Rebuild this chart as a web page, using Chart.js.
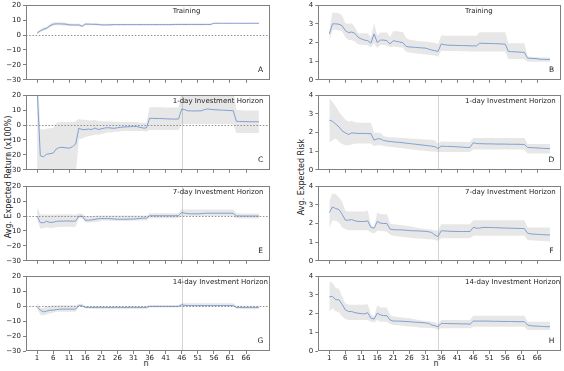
<!DOCTYPE html>
<html>
<head>
<meta charset="utf-8">
<script src="https://cdn.jsdelivr.net/npm/chart.js@4"></script>
<style>
  body { margin: 0; background: #fff; }
  #fig { position: relative; width: 564px; height: 371px; font-family: "DejaVu Sans", sans-serif; overflow: hidden; }
  #fig canvas { position: absolute; }
  .lbl { position: absolute; font-size: 8px; color: #222; white-space: nowrap; transform: translate(-50%, -50%); }
  .rot { transform: translate(-50%, -50%) rotate(-90deg); }
</style>
</head>
<body>
<div id="fig">
  <div class="lbl rot" style="left:8px;top:177px">Avg. Expected Return (x100%)</div>
  <div class="lbl rot" style="left:301px;top:177px">Avg. Expected Risk</div>
  <div class="lbl" style="left:146px;top:363px">n</div>
  <div class="lbl" style="left:436px;top:363px">n</div>
</div>
<script>
// n = 1..70 (window size)
const nValues = Array.from({ length: 70 }, (_, i) => i + 1);
const xTickValues = [1, 6, 11, 16, 21, 26, 31, 36, 41, 46, 51, 56, 61, 66];

// --- expected return (x100%) ---
const trainRetMean = [1.3,2.8,3.9,4.6,6.2,7.3,7.5,7.5,7.4,7.3, 6.8,6.8,6.7,6.8,5.9,7.3,7.3,7.2,7.2,7.1,
  6.8,6.8,6.8,6.9,7.0,7.0,7.0,7.0,7.0,7.0, 7.0,7.0,7.0,7.0,7.0,7.0,7.0,7.0,7.0,7.0,
  7.0,7.0,7.0,7.1,7.1,7.1,7.1,7.1,7.1,7.1, 7.1,7.1,7.1,7.1,7.1,7.9,7.9,7.9,7.9,7.9,
  7.9,7.9,7.9,7.9,7.9,7.9,7.9,7.9,7.9,7.9];
const trainRetUpper = [2.4,3.9,5.0,5.8,7.4,8.5,8.6,8.6,8.5,8.3, 7.7,7.7,7.6,7.7,6.8,8.0,8.0,7.9,7.9,7.8,
  7.5,7.5,7.5,7.6,7.6,7.6,7.6,7.6,7.6,7.6, 7.6,7.6,7.6,7.6,7.6,7.6,7.6,7.6,7.6,7.6,
  7.6,7.6,7.6,7.7,7.7,7.7,7.7,7.7,7.7,7.7, 7.7,7.7,7.7,7.7,7.7,8.1,8.1,8.1,8.1,8.1,
  8.1,8.1,8.1,8.1,8.1,8.1,8.1,8.1,8.1,8.1];
const trainRetLower = [0.3,1.8,2.9,3.5,5.0,6.2,6.5,6.5,6.4,6.3, 6.0,6.0,5.9,6.0,5.0,6.6,6.6,6.5,6.5,6.4,
  6.2,6.2,6.2,6.3,6.4,6.4,6.4,6.4,6.4,6.4, 6.4,6.4,6.4,6.4,6.4,6.4,6.4,6.4,6.4,6.4,
  6.4,6.4,6.4,6.5,6.5,6.5,6.5,6.5,6.5,6.5, 6.5,6.5,6.5,6.5,6.5,7.7,7.7,7.7,7.7,7.7,
  7.7,7.7,7.7,7.7,7.7,7.7,7.7,7.7,7.7,7.7];

const day1RetMean = [25,-20.6,-21.3,-19.5,-19.2,-18.8,-16,-15,-15,-15.3, -15.5,-14.5,-12.8,-2,-3.1,-3,-2.7,-3,-2,-3,
  -2.5,-2,-1.8,-2,-2.2,-1.8,-1.5,-1.3,-1.2,-1.1, -1.0,-1.0,-1.5,-2.0,-2.0,4.5,4.5,4.4,4.4,4.3,
  4.2,4.1,4.0,4.0,4.0,10.8,10.2,9.5,9.5,9.4, 9.5,9.5,10.3,10.8,10.5,10.3,10.2,10.0,10.0,9.8,
  9.7,9.6,2.5,2.4,2.3,2.3,2.2,2.2,2.2,2.2];
const day1RetUpper = [45,-3,-3,-2.5,-2.2,-2,1.5,2,2,2, 2,2,2.5,4,3.5,3.5,3,3,3.5,2.5,
  2.5,2.5,2.5,2.3,2.2,2.2,2.0,2.0,2.0,2.0, 2.0,2.0,1.5,1.5,1.5,12,12,12,12,12,
  11.8,11.8,11.8,11.8,11.8,24,24,24,24,24, 24,24,24,24,24,24,24,24,24,24,
  24,24,10,10,9.8,9.8,9.7,9.7,9.7,9.7];
const day1RetLower = [-50,-34,-34,-33,-33,-34,-36,-36,-36,-36, -36,-35,-34,-9.5,-9,-8,-7.5,-7,-6.5,-6.5,
  -6,-5.5,-5,-5,-4.5,-4.5,-4.2,-4,-4,-4, -4,-4,-4,-4,-4.5,-3.4,-3.4,-3.4,-3.4,-3.4,
  -3.4,-3.4,-3.4,-3.4,-3.4,0.7,0.7,0.7,0.7,0.7, 0.7,0.7,0.7,0.7,0.7,0.7,0.7,0.7,0.7,0.7,
  0.7,0.7,-5.4,-5.4,-5.4,-5.4,-5.4,-5.4,-5.4,-5.4];

const day7RetMean = [0,-4.4,-4.5,-3.5,-4.3,-4.1,-3.6,-3.4,-3.4,-3.3, -3.3,-3.5,-3.2,-0.2,0,-2.8,-2.8,-2.6,-2.2,-1.8,
  -1.7,-1.7,-1.7,-1.8,-2.0,-2.1,-2.1,-2.1,-2.1,-2.0, -2.0,-1.8,-1.6,-1.4,-1.4,0.2,0.2,0.2,0.2,0.2,
  0.2,0.2,0.2,0.2,0.3,2.4,1.9,1.6,1.5,1.5, 1.5,1.6,1.8,1.9,1.9,1.9,1.9,1.9,1.9,1.9,
  1.9,1.8,0.1,0.1,0,0,0,0,0,0];
const day7RetUpper = [5.7,1.2,1.0,1.0,1.0,1.0,1.0,1.2,1.2,1.2, 1.2,1.0,1.0,1.7,1.7,0,0,0,0.2,0.4,
  0.4,0.4,0.4,0.4,0.4,0.4,0.4,0.4,0.4,0.4, 0.4,0.4,0.4,0.4,0.4,1.9,1.9,1.9,1.9,1.9,
  1.9,1.9,1.9,1.9,1.9,4.4,4.4,4.4,4.4,4.4, 4.4,4.4,4.4,4.4,4.4,4.4,4.4,4.4,4.4,4.4,
  4.4,4.4,1.7,1.7,1.7,1.7,1.7,1.7,1.7,1.7];
const day7RetLower = [-2,-8.4,-8.2,-7.5,-8,-7.8,-7.5,-7.3,-7.3,-7.2, -7.2,-7.3,-7.2,-1.4,-1.4,-4.3,-4.3,-4.2,-4,-3.6,
  -3.2,-3.2,-3.2,-3.2,-3.3,-3.3,-3.3,-3.3,-3.3,-3.2, -3.2,-3.1,-3.0,-3.0,-3.0,-1.4,-1.4,-1.4,-1.4,-1.4,
  -1.4,-1.4,-1.4,-1.4,-1.4,0.1,0.1,0.1,0.1,0.1, 0.1,0.1,0.1,0.1,0.1,0.1,0.1,0.1,0.1,0.1,
  0.1,0.1,-1.7,-1.7,-1.7,-1.7,-1.7,-1.7,-1.7,-1.7];

const day14RetMean = [-0.4,-2.7,-3.8,-3.3,-2.7,-2.7,-2.3,-2.1,-2.0,-2.0, -2.0,-2.0,-2.0,0.4,0.2,-0.9,-0.9,-1.0,-1.0,-1.0,
  -1.0,-1.0,-1.0,-1.0,-1.0,-1.0,-1.0,-1.0,-1.0,-1.0, -1.0,-1.0,-1.0,-1.0,-1.0,-0.2,-0.2,-0.2,-0.2,-0.2,
  -0.2,-0.2,-0.2,-0.2,-0.2,0.9,0.5,0.4,0.4,0.4, 0.4,0.4,0.4,0.4,0.4,0.4,0.4,0.4,0.4,0.4,
  0.4,0.4,-0.9,-0.9,-1.0,-1.0,-1.0,-1.0,-1.0,-1.0];
const day14RetUpper = [2.2,-1.1,-1.3,0,0.3,0.5,0.5,0.5,0.5,0.5, 0.5,0.5,0.5,1.6,1.6,0,0,0,0,0,
  0,0,0,0,0,0,0,0,0,0, 0,0,0,0,0,0.7,0.7,0.7,0.7,0.7,
  0.7,0.7,0.7,0.7,0.7,2.0,2.0,2.0,2.0,2.0, 2.0,2.0,2.0,2.0,2.0,2.0,2.0,2.0,2.0,2.0,
  2.0,2.0,0.2,0.2,0.2,0.2,0.2,0.2,0.2,0.2];
const day14RetLower = [-1.5,-6,-6.3,-5.5,-5,-4.5,-3.8,-3.8,-3.8,-3.8, -3.8,-3.8,-3.8,-0.3,-0.3,-1.6,-1.6,-1.6,-1.6,-1.6,
  -1.6,-1.6,-1.6,-1.6,-1.6,-1.6,-1.6,-1.6,-1.6,-1.6, -1.6,-1.6,-1.6,-1.6,-1.6,-0.9,-0.9,-0.9,-0.9,-0.9,
  -0.9,-0.9,-0.9,-0.9,-0.9,-0.2,-0.2,-0.2,-0.2,-0.2, -0.2,-0.2,-0.2,-0.2,-0.2,-0.2,-0.2,-0.2,-0.2,-0.2,
  -0.2,-0.2,-1.8,-1.8,-1.8,-1.8,-1.8,-1.8,-1.8,-1.8];

// --- expected risk ---
const trainRiskMean = [2.46,3.0,3.0,2.98,2.9,2.64,2.53,2.56,2.49,2.28, 2.19,2.13,2.1,1.97,2.46,2.0,2.13,2.13,2.1,1.92,
  2.1,2.06,2.03,1.99,1.79,1.76,1.75,1.74,1.72,1.71, 1.7,1.65,1.6,1.56,1.52,1.92,1.88,1.86,1.85,1.85,
  1.84,1.84,1.83,1.83,1.82,1.82,1.82,1.96,1.96,1.95, 1.95,1.94,1.94,1.93,1.92,1.91,1.52,1.51,1.5,1.49,
  1.48,1.47,1.16,1.15,1.14,1.13,1.1,1.1,1.09,1.09];
const trainRiskUpper = [2.64,3.62,3.6,3.57,3.45,3.03,3.0,3.03,2.82,2.5, 2.5,2.5,2.5,2.28,3.03,2.37,2.53,2.53,2.53,2.31,
  2.6,2.6,2.58,2.56,2.24,2.15,2.13,2.1,2.08,2.06, 2.05,2.03,2.0,1.98,1.92,2.37,2.37,2.36,2.36,2.36,
  2.36,2.36,2.36,2.36,2.36,2.36,2.36,2.55,2.55,2.55, 2.55,2.55,2.55,2.55,2.55,2.55,1.96,1.96,1.96,1.96,
  1.96,1.96,1.24,1.24,1.22,1.21,1.2,1.2,1.2,1.2];
const trainRiskLower = [2.1,2.67,2.68,2.65,2.6,2.28,2.13,2.13,2.05,1.9, 1.88,1.86,1.85,1.74,1.96,1.7,1.87,1.86,1.84,1.74,
  1.78,1.76,1.74,1.72,1.5,1.46,1.44,1.42,1.4,1.38, 1.36,1.34,1.32,1.3,1.24,1.56,1.55,1.54,1.54,1.54,
  1.54,1.53,1.53,1.53,1.52,1.52,1.52,1.52,1.52,1.52, 1.52,1.52,1.52,1.52,1.52,1.52,1.11,1.11,1.11,1.11,
  1.11,1.11,0.97,0.97,0.97,0.97,0.97,0.97,0.97,0.97];

const day1RiskMean = [2.66,2.6,2.45,2.3,2.09,1.98,1.89,1.98,1.96,1.95, 1.95,1.95,1.94,1.94,1.59,1.66,1.66,1.57,1.54,1.52,
  1.5,1.48,1.47,1.45,1.43,1.41,1.39,1.37,1.35,1.33, 1.31,1.29,1.27,1.24,1.14,1.27,1.26,1.25,1.25,1.24,
  1.23,1.22,1.21,1.2,1.2,1.45,1.41,1.4,1.4,1.39, 1.39,1.39,1.38,1.38,1.38,1.38,1.37,1.37,1.37,1.37,
  1.36,1.36,1.2,1.19,1.18,1.17,1.16,1.15,1.14,1.14];
const day1RiskUpper = [3.82,3.64,3.41,3.11,2.88,2.7,2.57,2.63,2.55,2.53, 2.52,2.52,2.52,2.52,1.98,1.98,1.98,1.8,1.77,1.75,
  1.74,1.73,1.72,1.71,1.7,1.68,1.67,1.66,1.65,1.64, 1.63,1.62,1.61,1.59,1.41,1.52,1.52,1.51,1.51,1.5,
  1.5,1.5,1.49,1.49,1.49,1.71,1.71,1.71,1.71,1.71, 1.71,1.71,1.71,1.71,1.71,1.71,1.71,1.71,1.71,1.71,
  1.71,1.71,1.38,1.38,1.38,1.38,1.38,1.38,1.38,1.38];
const day1RiskLower = [1.46,1.59,1.68,1.5,1.38,1.32,1.32,1.35,1.4,1.41, 1.41,1.41,1.41,1.41,1.27,1.32,1.32,1.27,1.25,1.23,
  1.21,1.19,1.17,1.15,1.13,1.11,1.09,1.07,1.05,1.03, 1.01,0.99,0.98,0.97,0.96,0.96,0.96,0.96,0.96,0.96,
  0.96,0.96,0.96,0.96,0.96,1.09,1.09,1.09,1.09,1.09, 1.09,1.09,1.09,1.09,1.09,1.09,1.09,1.09,1.09,1.09,
  1.09,1.09,0.88,0.88,0.88,0.88,0.88,0.88,0.88,0.88];

const day7RiskMean = [2.59,2.89,2.8,2.75,2.5,2.18,2.18,2.21,2.14,2.11, 2.11,2.11,2.14,1.79,1.75,2.11,2.02,2.0,2.0,1.7,
  1.67,1.66,1.66,1.65,1.64,1.62,1.61,1.61,1.6,1.59, 1.58,1.56,1.52,1.38,1.3,1.61,1.6,1.59,1.58,1.58,
  1.57,1.57,1.57,1.57,1.57,1.79,1.75,1.75,1.79,1.79, 1.79,1.78,1.78,1.77,1.76,1.76,1.75,1.75,1.74,1.74,
  1.73,1.73,1.48,1.44,1.43,1.42,1.41,1.4,1.39,1.39];
const day7RiskUpper = [3.21,3.61,3.57,3.39,3.18,2.68,2.64,2.64,2.64,2.64, 2.64,2.64,2.7,1.96,1.79,2.59,2.5,2.5,2.5,2.0,
  1.96,1.94,1.92,1.9,1.88,1.85,1.82,1.79,1.76,1.73, 1.71,1.69,1.67,1.64,1.61,1.96,1.96,1.96,1.96,1.96,
  1.96,1.96,1.96,1.96,1.96,2.18,2.18,2.18,2.18,2.18, 2.18,2.18,2.18,2.18,2.18,2.18,2.18,2.18,2.18,2.18,
  2.18,2.18,1.79,1.79,1.79,1.79,1.79,1.79,1.79,1.79];
const day7RiskLower = [1.79,2.18,2.15,2.05,1.79,1.7,1.64,1.64,1.64,1.64, 1.64,1.64,1.64,1.52,1.46,1.61,1.6,1.58,1.56,1.4,
  1.34,1.32,1.3,1.28,1.26,1.24,1.22,1.2,1.19,1.18, 1.17,1.16,1.16,1.12,1.07,1.21,1.21,1.21,1.21,1.21,
  1.21,1.21,1.21,1.21,1.21,1.34,1.34,1.34,1.34,1.34, 1.34,1.34,1.34,1.34,1.34,1.34,1.34,1.34,1.34,1.34,
  1.34,1.34,1.11,1.1,1.09,1.08,1.07,1.06,1.05,1.04];

const day14RiskMean = [2.9,2.92,2.74,2.74,2.5,2.2,2.11,2.11,2.05,2.02, 2.0,1.98,2.05,1.75,1.71,2.02,1.93,1.89,1.89,1.66,
  1.6,1.6,1.6,1.59,1.58,1.57,1.55,1.54,1.53,1.52, 1.5,1.48,1.39,1.35,1.3,1.48,1.47,1.47,1.46,1.46,
  1.46,1.45,1.45,1.45,1.43,1.6,1.6,1.6,1.6,1.6, 1.6,1.59,1.59,1.59,1.58,1.58,1.58,1.58,1.57,1.57,
  1.57,1.57,1.39,1.35,1.34,1.33,1.32,1.31,1.3,1.3];
const day14RiskUpper = [3.73,3.64,3.37,3.33,2.92,2.56,2.47,2.47,2.47,2.47, 2.47,2.47,2.5,1.96,1.84,2.43,2.32,2.32,2.32,1.93,
  1.84,1.83,1.81,1.79,1.77,1.75,1.72,1.69,1.66,1.63, 1.61,1.59,1.57,1.55,1.42,1.66,1.66,1.66,1.66,1.66,
  1.66,1.66,1.66,1.66,1.66,1.89,1.89,1.89,1.89,1.89, 1.89,1.89,1.89,1.89,1.89,1.89,1.89,1.89,1.89,1.89,
  1.89,1.89,1.57,1.57,1.57,1.57,1.57,1.57,1.57,1.57];
const day14RiskLower = [2.11,2.29,2.11,2.07,1.84,1.71,1.66,1.66,1.66,1.66, 1.66,1.66,1.66,1.57,1.53,1.66,1.57,1.57,1.57,1.45,
  1.39,1.38,1.36,1.35,1.33,1.31,1.3,1.28,1.26,1.25, 1.24,1.23,1.22,1.21,1.12,1.21,1.21,1.21,1.21,1.21,
  1.21,1.21,1.21,1.21,1.21,1.3,1.3,1.3,1.3,1.3, 1.3,1.3,1.3,1.3,1.3,1.3,1.3,1.3,1.3,1.3,
  1.3,1.3,1.12,1.12,1.12,1.12,1.12,1.12,1.12,1.12];

const panelTitles = ['Training', '1-day Investment Horizon', '7-day Investment Horizon', '14-day Investment Horizon'];

const panels = [
  { col: 0, row: 0, letter: 'A', mean: trainRetMean, upper: trainRetUpper, lower: trainRetLower, vline: null },
  { col: 0, row: 1, letter: 'C', mean: day1RetMean, upper: day1RetUpper, lower: day1RetLower, vline: 46 },
  { col: 0, row: 2, letter: 'E', mean: day7RetMean, upper: day7RetUpper, lower: day7RetLower, vline: 46 },
  { col: 0, row: 3, letter: 'G', mean: day14RetMean, upper: day14RetUpper, lower: day14RetLower, vline: 46 },
  { col: 1, row: 0, letter: 'B', mean: trainRiskMean, upper: trainRiskUpper, lower: trainRiskLower, vline: null },
  { col: 1, row: 1, letter: 'D', mean: day1RiskMean, upper: day1RiskUpper, lower: day1RiskLower, vline: 35 },
  { col: 1, row: 2, letter: 'F', mean: day7RiskMean, upper: day7RiskUpper, lower: day7RiskLower, vline: 35 },
  { col: 1, row: 3, letter: 'H', mean: day14RiskMean, upper: day14RiskUpper, lower: day14RiskLower, vline: 35 }
];

const FONT = 'DejaVu Sans';
const rowTops = [4.5, 95, 185.5, 276];
const plotH = 75;
const padTop = 6;

// draws the box, reference lines and in-panel texts
const panelDecor = {
  id: 'panelDecor',
  beforeDatasetsDraw(chart, args, o) {
    const { ctx, chartArea: a, scales } = chart;
    if (o.vline != null) {
      const x = Math.round(scales.x.getPixelForValue(o.vline)) + 0.5;
      ctx.save();
      ctx.strokeStyle = '#d4d4d4';
      ctx.lineWidth = 1;
      ctx.beginPath(); ctx.moveTo(x, a.top); ctx.lineTo(x, a.bottom); ctx.stroke();
      ctx.restore();
    }
  },
  afterDatasetsDraw(chart, args, o) {
    const { ctx, chartArea: a, scales } = chart;
    if (o.zero) {
      const y = Math.round(scales.y.getPixelForValue(0)) + 0.5;
      ctx.save();
      ctx.strokeStyle = '#8a8a8a';
      ctx.lineWidth = 0.9;
      ctx.setLineDash([1.6, 1.6]);
      ctx.beginPath(); ctx.moveTo(a.left, y); ctx.lineTo(a.right, y); ctx.stroke();
      ctx.restore();
    }
  },
  afterDraw(chart, args, o) {
    const { ctx, chartArea: a } = chart;
    ctx.save();
    ctx.strokeStyle = '#808080';
    ctx.lineWidth = 1;
    ctx.strokeRect(Math.round(a.left) + 0.5, Math.round(a.top) + 0.5,
      Math.round(a.right - a.left) - 1, Math.round(a.bottom - a.top) - 1);
    ctx.fillStyle = '#222';
    ctx.font = '7px "' + FONT + '"';
    ctx.textBaseline = 'middle';
    ctx.textAlign = 'left';
    ctx.fillText(o.title, a.left + 146.7, a.top + 6);
    ctx.font = '7.5px "' + FONT + '"';
    ctx.textAlign = 'center';
    ctx.fillText(o.letter, a.right - 9.5, a.bottom - 10);
    ctx.restore();
  }
};

const fig = document.getElementById('fig');

panels.forEach(p => {
  const isBottom = p.row === 3;
  const isRisk = p.col === 1;
  const xh = isBottom ? 16 : 6;
  const left = isRisk ? 300 : 0;
  const width = isRisk ? 264 : 280;
  const yAxisW = isRisk ? 18.3 : 26;
  const padRight = isRisk ? 3 : 10;

  const canvas = document.createElement('canvas');
  canvas.width = width;
  canvas.height = padTop + plotH + xh;
  canvas.style.left = left + 'px';
  canvas.style.top = (rowTops[p.row] - padTop) + 'px';
  fig.appendChild(canvas);

  const pts = arr => arr.map((v, i) => ({ x: nValues[i], y: v }));

  new Chart(canvas, {
    type: 'line',
    data: {
      datasets: [
        { data: pts(p.mean), borderColor: '#7f9fd2', borderWidth: 1, pointRadius: 0, fill: false, clip: 0, tension: 0 },
        { data: pts(p.lower), borderWidth: 0, borderColor: 'rgba(0,0,0,0)', pointRadius: 0, fill: false, clip: 0 },
        { data: pts(p.upper), borderWidth: 0, borderColor: 'rgba(0,0,0,0)', pointRadius: 0, clip: 0,
          fill: 1, backgroundColor: 'rgba(128,128,128,0.19)' }
      ]
    },
    options: {
      responsive: false,
      animation: false,
      devicePixelRatio: 1,
      layout: { padding: { top: padTop, right: padRight, left: 0, bottom: 0 } },
      plugins: {
        legend: { display: false },
        tooltip: { enabled: false },
        panelDecor: { title: panelTitles[p.row], letter: p.letter, vline: p.vline, zero: !isRisk }
      },
      scales: {
        x: {
          type: 'linear',
          min: -2.45,
          max: 73.45,
          afterBuildTicks: s => { s.ticks = xTickValues.map(v => ({ value: v })); },
          afterFit: s => { s.height = xh; },
          border: { display: false },
          grid: { drawOnChartArea: false, drawTicks: true, tickLength: 3, color: '#808080' },
          ticks: { display: isBottom, autoSkip: false, maxRotation: 0, padding: 0, color: '#222',
            font: { family: FONT, size: 7 } }
        },
        y: {
          min: isRisk ? 0 : -30,
          max: isRisk ? 4 : 20,
          afterFit: s => { s.width = yAxisW; },
          border: { display: false },
          grid: { drawOnChartArea: false, drawTicks: true, tickLength: 3, color: '#808080' },
          ticks: { stepSize: isRisk ? 1 : 10, padding: 2, color: '#222',
            font: { family: FONT, size: 7 },
            callback: v => String(v).replace('-', '\u2212') }
        }
      }
    },
    plugins: [panelDecor]
  });
});
</script>
</body>
</html>
